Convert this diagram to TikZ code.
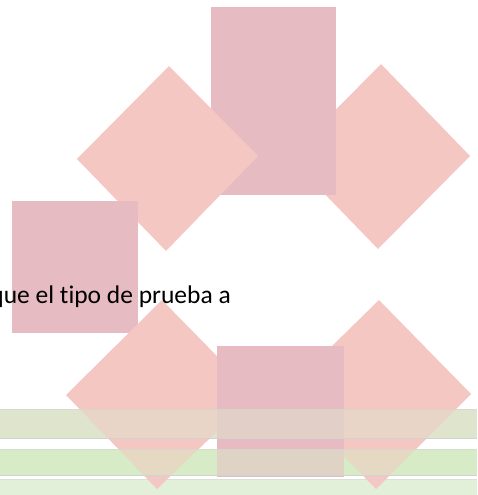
\documentclass[tikz,border=0pt]{standalone}
\usepackage{fontspec}
\setmainfont[Ligatures={NoCommon}]{Carlito}
\definecolor{dia}{HTML}{F5C7C2}
\definecolor{rct}{HTML}{E6BBC1}
\definecolor{barA}{HTML}{DFE4CD}
\definecolor{barB}{HTML}{D8EBC7}
\definecolor{barC}{HTML}{E2EFD9}
\definecolor{barline}{HTML}{D2D2D2}
\tikzset{
  diafill/.style={fill=dia},
  rectfill/.style={fill=rct},
  barline/.style={draw=barline, line width=0.8pt},
  overlay50/.style={fill opacity=0.5},
}
\begin{document}
\begin{tikzpicture}[x=1pt,y=-1pt]
\useasboundingbox (0,0) rectangle (477,495);
\fill[white] (0,0) rectangle (477,495);
% bars (opaque base)
\fill[barA] (0,409) rectangle (477,438);
\fill[barB] (0,449) rectangle (477,475);
\fill[barC] (0,479) rectangle (477,495);
% top-right diamond
\fill[diafill] (381,64) -- (470,156) -- (378,249) -- (289,157) -- cycle;
% top rectangle
\fill[rectfill] (211,7) rectangle (336,195);
% top-left diamond
\fill[diafill] (169,66) -- (258,156) -- (166,251) -- (77,159) -- cycle;
% left square
\fill[rectfill] (12,201) rectangle (138,333);
% bottom diamonds
\fill[diafill] (162,300) -- (255,395) -- (157,489) -- (66,395) -- cycle;
\fill[diafill] (379,300) -- (471,394) -- (376,489) -- (283,394) -- cycle;
% bottom rectangle
\fill[rectfill] (217,346) rectangle (344,477);
% bar overlays
\fill[barA,overlay50] (0,409) rectangle (477,438);
\fill[barB,overlay50] (0,449) rectangle (477,475);
\draw[barline] (0,438) -- (477,438);
\draw[barline] (0,475.5) -- (477,475.5);
\draw[barline, draw opacity=0.5] (0,409) -- (477,409);
\draw[barline, draw opacity=0.5] (0,449) -- (477,449);
\draw[barline, draw opacity=0.5] (0,479) -- (477,479);
% text
\node[anchor=base east, inner sep=0pt, font=\fontsize{25.5}{30}\selectfont] (txt) at (231,303) {que el tipo de prueba a};
\end{tikzpicture}
\end{document}
